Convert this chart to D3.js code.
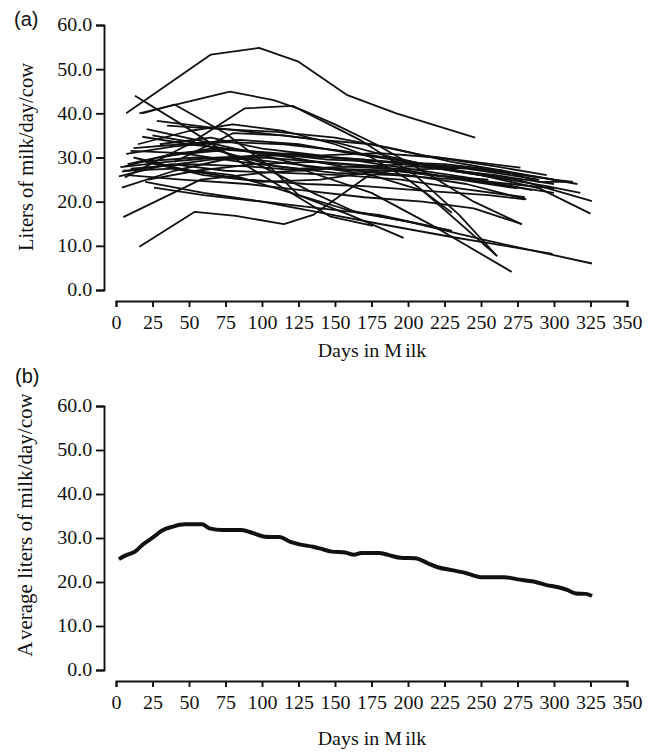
<!DOCTYPE html>
<html lang="en">
<head>
    <meta charset="utf-8">
    <script src="https://d3js.org/d3.v7.min.js"></script>
    <style type="text/css">
        body {
            margin: 0;
            background: #fff;
            overflow: hidden;
        }
        .axis path, .axis line {
            stroke: #111;
            stroke-width: 1.9px;
        }
        .axis text {
            font-family: "Liberation Serif", "Times New Roman", serif;
            font-size: 18.5px;
            fill: #111;
        }
        .title {
            font-family: "Liberation Serif", "Times New Roman", serif;
            fill: #111;
        }
        .panel-tag {
            font-family: "Liberation Sans", Arial, sans-serif;
            font-size: 20px;
            fill: #111;
        }
    </style>
</head>
<body>
<svg id="chart"></svg>
<script type="text/javascript">
    var width = 654;
    var height = 753;

    // axis ticks
    var dayTicks = [0, 25, 50, 75, 100, 125, 150, 175, 200, 225, 250, 275, 300, 325, 350];
    var litreTicks = [0, 10, 20, 30, 40, 50, 60];

    // (a) individual curves, [day, litres] at each test day
    var cowCurves = [
        [[7, 40], [65, 53.3], [98, 54.8], [125, 51.7], [158, 44.2], [192, 40], [246, 34.5]],
        [[16, 40], [78, 44.9], [108, 43], [128, 40.7], [150, 37.5], [178, 33], [210, 27], [245, 20], [278, 14.9]],
        [[13, 44], [45, 37.5], [80, 30], [115, 23], [147, 16.6], [176, 14.5]],
        [[18, 40], [40, 42], [75, 35.5], [105, 28], [125, 21.5], [160, 17], [197, 11.8]],
        [[6, 25.5], [50, 33], [88, 41.1], [121, 41.7], [167, 34], [205, 26], [235, 17], [261, 7.7]],
        [[28, 38.3], [60, 37], [100, 35.5], [140, 34], [175, 33], [210, 30.5], [245, 29], [277, 27.7]],
        [[35, 37.2], [70, 36.5], [110, 35.8], [150, 34.5], [190, 32], [230, 29], [265, 27], [290, 24.5], [313, 24.5]],
        [[21, 36.4], [55, 34], [95, 31], [130, 28], [165, 27], [200, 26], [240, 24], [281, 20.5]],
        [[18, 34.7], [50, 33], [90, 31.5], [130, 30.5], [170, 29.5], [210, 28], [250, 26], [295, 23.5], [318, 22]],
        [[7, 30.8], [40, 32.5], [75, 33.5], [115, 33], [155, 31.5], [195, 29.5], [235, 27], [275, 25], [326, 20.1]],
        [[12, 32.1], [45, 33], [85, 34], [125, 33], [160, 31], [200, 29], [250, 26], [290, 23], [325, 17.3]],
        [[3, 27.8], [35, 29], [70, 30], [110, 30.5], [150, 30], [190, 29], [230, 28], [270, 26.5], [300, 25], [313, 24.5]],
        [[2, 25.7], [30, 28], [65, 29.5], [100, 30], [140, 29], [180, 28], [220, 26], [260, 24], [300, 22]],
        [[4, 23.2], [40, 27], [80, 30], [120, 31], [160, 29.5], [200, 27.5], [240, 25.5], [285, 22.6]],
        [[26, 23.2], [60, 21.5], [100, 20], [140, 18.5], [180, 17], [230, 13.4]],
        [[8, 26], [45, 25], [90, 24], [130, 22.5], [170, 21], [210, 20], [245, 18.5], [278, 14.9]],
        [[10, 27.5], [50, 28.5], [90, 28], [130, 27], [175, 22], [220, 14], [271, 4.1]],
        [[15, 29], [55, 30], [95, 29.5], [135, 28], [175, 26], [210, 22.5], [261, 7.7]],
        [[20, 24.5], [60, 22], [100, 20], [140, 17.5], [180, 15], [230, 12], [299, 8.2]],
        [[5, 27], [40, 27.5], [80, 26], [120, 22], [160, 18], [200, 15.5], [250, 11.5], [326, 6]],
        [[25, 35], [60, 33], [100, 28], [135, 22], [165, 17.5], [200, 15.5], [230, 13.4]],
        [[5, 16.5], [58, 25], [100, 26.5], [147, 27.5], [190, 27], [230, 25.5], [270, 24], [300, 23]],
        [[16, 9.8], [54, 17.7], [82, 16.8], [115, 14.9], [135, 17], [172, 25.7], [200, 28], [240, 27.5], [290, 25]],
        [[30, 30], [65, 32], [105, 31], [145, 29.5], [185, 29], [225, 28.5], [265, 27], [300, 25]],
        [[12, 30], [50, 27], [90, 25], [130, 24], [170, 23.5], [210, 22.5], [255, 21.5], [280, 20.5]],
        [[22, 25], [55, 27], [95, 28.5], [135, 29], [175, 28], [215, 26], [255, 25]],
        [[40, 29], [80, 35.5], [115, 35], [150, 33.5], [190, 30], [230, 27], [270, 25]],
        [[8, 28.5], [42, 31], [80, 32], [120, 30], [155, 28], [185, 27.5]],
        [[15, 33], [50, 36], [80, 37.5], [115, 36], [150, 33], [175, 30], [200, 25], [230, 17.5]],
        [[6, 28], [35, 30.5], [70, 31.5], [110, 28], [150, 26.5], [190, 26], [235, 25], [275, 23]],
        [[10, 31.5], [45, 31], [85, 29], [125, 27.5], [165, 28], [205, 28.5], [245, 27.5], [290, 25.5], [316, 24]],
        [[20, 29], [60, 26], [100, 24.5], [140, 25], [180, 27], [220, 27.5], [260, 26], [300, 24]],
        [[4, 26.8], [38, 28.5], [75, 27], [115, 26.5], [155, 26], [195, 25], [235, 23], [280, 21]],
        [[30, 33], [65, 34.5], [100, 32], [140, 30.5], [180, 31], [220, 30], [260, 28], [295, 26]]
    ];

    // (b) herd average
    var avgDays = [2, 7, 13, 18, 26, 31, 39, 47, 59, 64, 73, 86, 93, 102, 112, 119, 125, 135, 142, 148,
        157, 163, 168, 180, 187, 195, 205, 214, 221, 230, 240, 250, 266, 275, 286, 295, 303, 309, 315, 322, 326];
    var avgYield = [25.2, 26.1, 26.9, 28.4, 30.3, 31.6, 32.6, 33.1, 33.1, 32.2, 31.8, 31.8, 31.2, 30.3, 30.2, 29.2, 28.6, 28.0, 27.4, 26.9,
        26.7, 26.2, 26.6, 26.6, 26.1, 25.5, 25.4, 24.2, 23.3, 22.7, 22.0, 21.1, 21.1, 20.6, 20.1, 19.3, 18.8, 18.2, 17.4, 17.3, 16.8];

    var svg = d3.select("#chart")
        .attr("width", width)
        .attr("height", height);

    var x = d3.scaleLinear().domain([0, 350]).range([116, 627]);
    var yTop = d3.scaleLinear().domain([0, 60]).range([290, 25]);
    var yBot = d3.scaleLinear().domain([0, 60]).range([670, 406]);

    function drawAxes(y, xAxisY) {
        var gy = svg.append("g")
            .attr("class", "axis")
            .attr("transform", "translate(104,0)")
            .call(d3.axisLeft(y).tickValues(litreTicks).tickSize(8).tickPadding(3)
                .tickFormat(d3.format(".1f")));

        var gx = svg.append("g")
            .attr("class", "axis")
            .attr("transform", "translate(0," + xAxisY + ")")
            .call(d3.axisBottom(x).tickValues(dayTicks).tickSize(6).tickPadding(9)
                .tickFormat(d3.format("d")));

        // the original type is a little wider than Times
        gy.selectAll("text").attr("transform", "scale(1.08,1)");
        gx.selectAll("text").attr("transform", "scale(1.08,1)");
    }

    function xLabel(baseline) {
        var t = svg.append("text")
            .attr("class", "title")
            .attr("x", 0)
            .attr("y", 0)
            .attr("text-anchor", "middle")
            .attr("transform", "translate(372," + baseline + ") scale(1.08,1)")
            .style("font-size", "18.5px");
        t.append("tspan").text("Days in M");
        t.append("tspan").attr("dx", 3).text("ilk");
    }

    function yLabel(parts, cx, cy, size) {
        var t = svg.append("text")
            .attr("class", "title")
            .attr("text-anchor", "middle")
            .attr("transform", "translate(" + cx + "," + cy + ") rotate(-90)")
            .style("font-size", size + "px");
        parts.forEach(function(p, i) {
            t.append("tspan").attr("dx", i ? 3 : 0).text(p);
        });
    }

    // ---- panel (a)
    drawAxes(yTop, 301);

    var lineTop = d3.line()
        .x(function(d) { return x(d[0]); })
        .y(function(d) { return yTop(d[1]); });

    svg.append("g")
        .selectAll("path")
        .data(cowCurves)
        .join("path")
        .attr("d", lineTop)
        .style("fill", "none")
        .style("stroke", "#111")
        .style("stroke-width", 1.8)
        .style("stroke-linejoin", "round");

    yLabel(["Liters of milk/day/cow"], 33, 157, 20.5);
    xLabel(357);

    svg.append("text").attr("class", "panel-tag")
        .attr("x", 14).attr("y", 26).text("(a)");

    // ---- panel (b)
    drawAxes(yBot, 681);

    var lineBot = d3.line()
        .x(function(d, i) { return x(avgDays[i]); })
        .y(function(d) { return yBot(d); })
        .curve(d3.curveMonotoneX);

    svg.append("path")
        .datum(avgYield)
        .attr("d", lineBot)
        .style("fill", "none")
        .style("stroke", "#111")
        .style("stroke-width", 4)
        .style("stroke-linejoin", "round");

    yLabel(["A", "verage liters of milk/day/cow"], 32, 525, 21);
    xLabel(745);

    svg.append("text").attr("class", "panel-tag")
        .attr("x", 15).attr("y", 383).text("(b)");
</script>
</body>
</html>
